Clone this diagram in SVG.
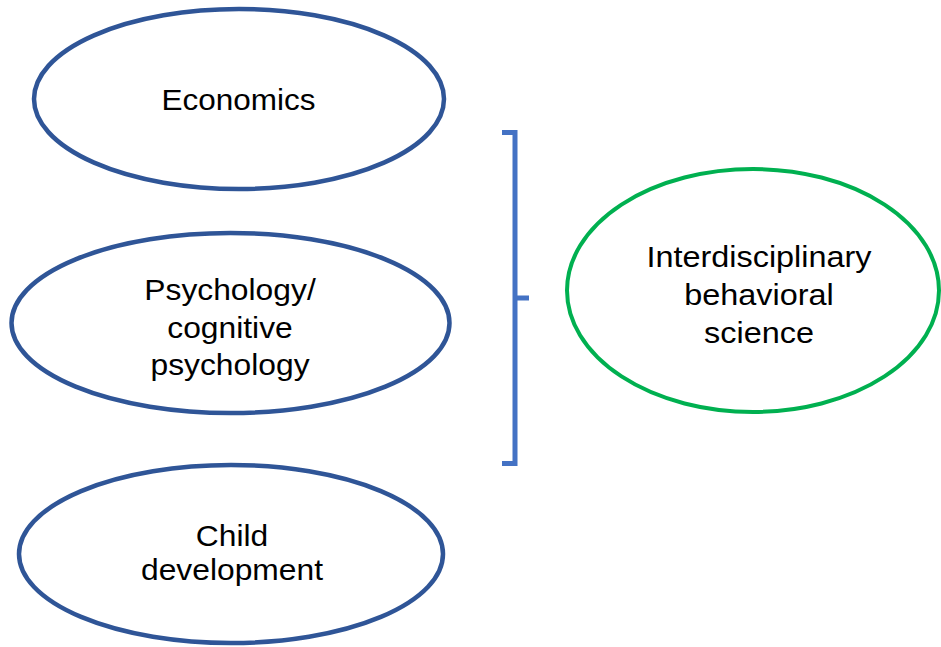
<svg xmlns="http://www.w3.org/2000/svg" width="941" height="647" viewBox="0 0 941 647">
  <style>
    .disc { fill: #ffffff; stroke: #2F5597; stroke-width: 4.5; }
    .goal { fill: #ffffff; stroke: #00B050; stroke-width: 4; }
    .lbl { font-family: "Liberation Sans", Arial, sans-serif; font-size: 30px; fill: #000000; text-anchor: middle; }
    .brace { fill: none; stroke: #4472C4; stroke-width: 5; }
  </style>
  <rect width="941" height="647" fill="#ffffff"/>

  <g id="economics">
    <ellipse class="disc" cx="239" cy="99" rx="205" ry="90"/>
    <g transform="translate(238.5,0) scale(1.05,1)">
      <text class="lbl" x="0" y="110">Economics</text>
    </g>
  </g>

  <g id="psychology">
    <ellipse class="disc" cx="230.5" cy="323" rx="219" ry="90"/>
    <g transform="translate(230,0) scale(1.06,1)">
      <text class="lbl" x="0" y="300.5">Psychology/</text>
      <text class="lbl" x="0" y="338">cognitive</text>
      <text class="lbl" x="0" y="375.5">psychology</text>
    </g>
  </g>

  <g id="child-development">
    <ellipse class="disc" cx="231" cy="554" rx="212" ry="89"/>
    <g transform="translate(232,0) scale(1.06,1)">
      <text class="lbl" x="0" y="546">Child</text>
      <text class="lbl" x="0" y="580.5">development</text>
    </g>
  </g>

  <g id="behavioral-science">
    <ellipse class="goal" cx="753" cy="290.5" rx="186" ry="121.5"/>
    <g transform="translate(759,0) scale(1.08,1)">
      <text class="lbl" x="0" y="267">Interdisciplinary</text>
      <text class="lbl" x="0" y="305.5">behavioral</text>
      <text class="lbl" x="0" y="343.5">science</text>
    </g>
  </g>

  <g id="connectors">
    <path class="brace" d="M502,132.5 H515 V463.5 H502 M515,298 H529"/>
  </g>
</svg>
